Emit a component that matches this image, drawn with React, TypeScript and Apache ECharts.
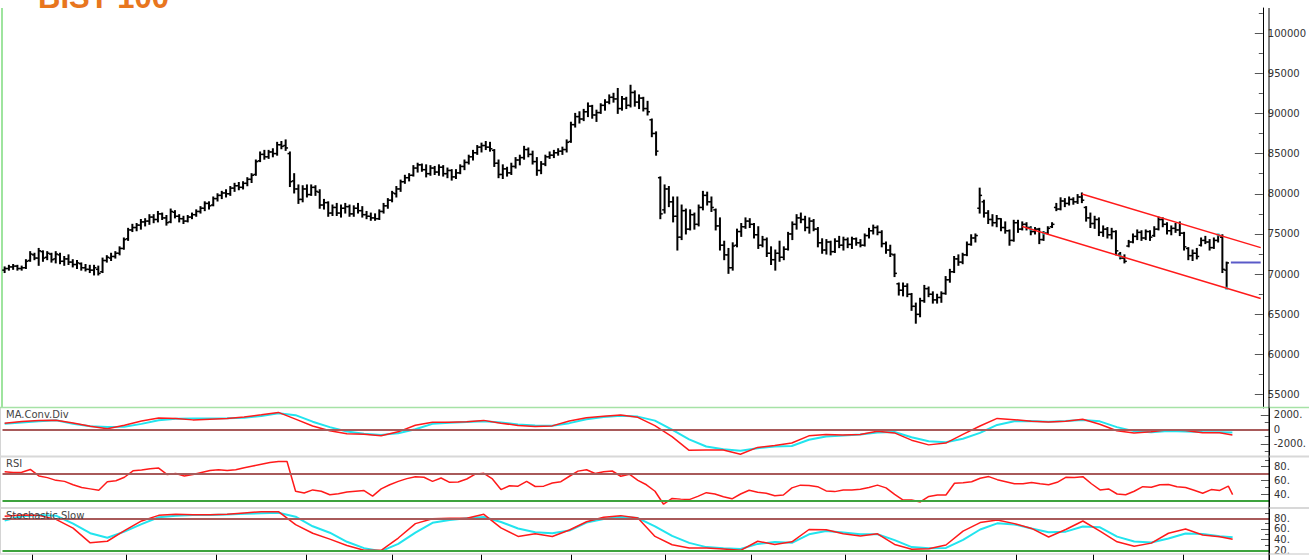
import React, { useEffect, useRef } from 'react';
import * as echarts from 'echarts';

// ---------- DATA ----------
const TITLE = 'BIST 100';
const BAR_COUNT = 288;
const TOTAL_SLOTS = 296; // bars + empty space on the right

// OHLC in thousands of points
const opens = [
  70.5, 70.7, 70.9, 71.0, 70.7, 70.8, 71.7, 72.4, 72.0, 72.8,
  72.1, 72.5, 71.9, 72.4, 71.6, 71.9, 71.5, 71.2, 71.3, 70.8,
  70.6, 70.5, 70.6, 70.3, 71.7, 72.0, 72.2, 72.6, 73.2, 74.4,
  75.5, 75.8, 76.1, 76.5, 76.6, 77.1, 76.8, 77.5, 77.0, 76.5,
  77.7, 77.2, 76.9, 76.6, 77.1, 77.4, 77.8, 78.2, 78.8, 78.6,
  79.4, 79.8, 80.1, 80.0, 80.7, 81.0, 80.8, 81.3, 81.8, 82.4,
  84.1, 84.9, 84.6, 85.2, 85.0, 86.1, 86.0, 85.0, 81.6, 80.6,
  79.3, 80.6, 79.9, 80.8, 80.2, 78.6, 78.9, 77.6, 78.3, 77.6,
  78.2, 78.4, 77.5, 78.2, 77.9, 77.4, 77.2, 77.0, 76.9, 77.8,
  78.5, 79.2, 80.0, 80.6, 81.5, 82.0, 82.3, 83.2, 83.6, 83.0,
  82.5, 83.2, 82.7, 83.3, 82.5, 82.9, 82.1, 82.6, 83.4, 83.9,
  84.6, 85.1, 85.8, 86.0, 85.8, 85.4, 83.8, 82.4, 83.1, 82.6,
  83.4, 84.2, 84.5, 85.5, 84.9, 84.0, 82.9, 83.7, 84.6, 84.8,
  85.1, 85.3, 85.5, 86.5, 88.6, 89.6, 89.3, 90.2, 90.9, 89.8,
  90.1, 91.0, 91.4, 92.0, 91.8, 90.6, 91.8, 91.0, 92.6, 91.4,
  91.9, 90.6, 89.2, 87.5, 82.0, 78.0, 80.6, 79.0, 77.2, 74.6,
  77.9, 75.6, 77.4, 76.2, 78.3, 79.8, 79.0, 78.0, 76.0, 73.6,
  72.4, 70.8, 73.6, 75.3, 75.9, 76.6, 76.2, 74.9, 73.6, 74.3,
  72.6, 71.8, 72.6, 72.1, 73.1, 75.0, 76.2, 77.0, 76.8, 75.8,
  76.6, 75.6, 73.9, 73.0, 74.0, 72.8, 74.1, 73.6, 74.3, 73.7,
  74.4, 73.9, 73.6, 74.8, 75.4, 75.8, 75.2, 73.8, 73.0, 72.4,
  68.8, 68.0, 68.5, 67.5, 66.0, 65.0, 66.7, 68.2, 67.5, 66.8,
  67.1, 67.6, 69.3, 70.3, 71.9, 71.5, 72.4, 73.7, 74.5, 78.2,
  79.0, 77.6, 76.8, 76.4, 76.9, 75.8, 75.4, 74.2, 76.4, 75.6,
  76.2, 75.8, 75.3, 75.6, 74.3, 75.1, 75.9, 78.3, 78.1, 79.1,
  78.8, 79.3, 79.0, 79.6, 78.3, 77.0, 76.3, 76.8, 75.2, 75.6,
  74.9, 75.3, 72.5, 72.0, 73.5, 74.0, 74.7, 75.2, 74.5, 75.3,
  74.8, 75.6, 76.8, 76.2, 75.4, 75.7, 75.5, 75.1, 73.2, 72.3,
  72.6, 73.6, 74.2, 74.0, 73.3, 74.2, 74.6, 70.5,
];
const highs = [
  70.9, 71.1, 71.2, 71.1, 71.0, 71.8, 72.8, 72.6, 73.2, 72.9,
  72.8, 72.6, 72.8, 72.6, 72.2, 72.4, 71.8, 71.7, 71.4, 71.2,
  71.1, 71.1, 71.0, 72.0, 72.3, 72.6, 72.8, 73.4, 74.5, 75.7,
  76.2, 76.3, 76.8, 76.9, 77.4, 77.4, 77.8, 77.6, 77.3, 78.1,
  77.9, 77.4, 77.2, 77.3, 77.6, 78.0, 78.4, 79.0, 79.0, 79.6,
  80.0, 80.3, 80.5, 80.9, 81.3, 81.4, 81.5, 82.0, 82.5, 84.2,
  85.2, 85.4, 85.4, 85.6, 86.4, 86.5, 86.7, 85.2, 82.5, 81.1,
  81.0, 81.1, 81.1, 81.0, 80.5, 79.3, 79.0, 78.6, 78.8, 78.6,
  78.8, 78.6, 78.5, 78.8, 78.4, 77.8, 77.6, 77.5, 78.0, 78.8,
  79.4, 80.3, 80.9, 81.7, 82.3, 82.5, 83.5, 83.8, 83.7, 83.6,
  83.5, 83.4, 83.6, 83.5, 83.2, 83.0, 83.0, 83.6, 84.2, 84.8,
  85.4, 86.0, 86.3, 86.5, 86.4, 85.5, 84.2, 83.6, 83.3, 83.8,
  84.5, 84.8, 85.9, 85.7, 85.3, 84.5, 84.0, 84.8, 85.2, 85.4,
  85.6, 85.8, 86.7, 88.9, 90.0, 90.2, 90.5, 91.3, 91.0, 90.4,
  91.2, 91.7, 92.3, 92.5, 93.1, 92.1, 92.0, 93.5, 92.8, 92.3,
  92.0, 91.5, 89.3, 87.7, 82.1, 81.1, 80.9, 79.6, 79.6, 78.6,
  78.1, 78.0, 77.6, 78.6, 80.3, 80.2, 79.6, 78.1, 77.0, 74.1,
  73.2, 73.9, 75.6, 76.3, 77.0, 76.9, 76.3, 75.9, 74.7, 74.5,
  73.4, 73.0, 74.1, 73.4, 75.2, 76.5, 77.4, 77.6, 77.2, 77.0,
  76.8, 75.8, 74.4, 74.3, 74.1, 74.4, 74.7, 74.6, 74.5, 74.6,
  74.5, 74.3, 75.0, 75.7, 76.1, 76.0, 75.4, 74.0, 73.6, 72.5,
  68.9, 68.9, 68.8, 67.6, 66.4, 67.0, 68.6, 68.4, 67.8, 67.5,
  67.8, 69.7, 70.6, 72.2, 72.4, 72.6, 74.0, 74.9, 75.0, 80.7,
  79.2, 77.9, 77.4, 77.3, 76.9, 76.5, 75.5, 76.7, 76.7, 76.5,
  76.4, 75.9, 75.8, 75.7, 75.3, 75.9, 76.4, 78.8, 79.5, 79.4,
  79.6, 79.5, 79.9, 80.1, 78.4, 77.6, 77.2, 77.0, 76.0, 75.8,
  75.7, 75.4, 72.7, 72.4, 74.2, 75.0, 75.5, 75.4, 75.5, 75.4,
  75.9, 77.1, 77.0, 76.4, 76.0, 76.3, 76.5, 75.2, 73.3, 73.0,
  73.2, 74.5, 74.7, 74.3, 74.5, 74.9, 74.9, 71.5,
];
const lows = [
  70.2, 70.5, 70.6, 70.5, 70.5, 70.7, 71.6, 71.8, 71.1, 71.6,
  71.8, 71.5, 71.4, 71.3, 71.1, 71.2, 70.9, 70.7, 70.5, 70.4,
  70.2, 69.9, 69.9, 70.2, 71.5, 71.7, 72.0, 72.4, 73.1, 74.2,
  75.3, 75.4, 75.6, 76.0, 76.2, 76.4, 76.5, 76.8, 76.1, 76.4,
  77.0, 76.5, 76.3, 76.5, 76.9, 77.2, 77.6, 77.9, 78.1, 78.5,
  79.1, 79.4, 79.6, 79.8, 80.3, 80.5, 80.6, 81.0, 81.4, 82.3,
  84.0, 84.3, 84.4, 84.6, 84.8, 85.6, 85.4, 80.9, 80.1, 78.8,
  79.0, 79.6, 79.8, 79.8, 78.2, 78.1, 77.2, 77.3, 77.3, 77.1,
  77.6, 77.2, 77.2, 77.6, 77.1, 76.9, 76.7, 76.7, 76.8, 77.6,
  78.2, 79.0, 79.6, 80.3, 81.3, 81.6, 82.2, 82.7, 82.8, 82.1,
  82.3, 82.4, 82.3, 82.2, 82.0, 81.7, 81.9, 82.5, 83.0, 83.7,
  84.2, 84.9, 85.2, 85.5, 85.3, 83.4, 82.0, 81.9, 82.2, 82.4,
  83.2, 83.6, 84.3, 84.6, 83.7, 82.3, 82.5, 83.5, 84.4, 84.5,
  84.8, 84.9, 85.2, 86.4, 88.3, 88.8, 89.1, 89.6, 89.4, 89.0,
  90.0, 90.4, 91.2, 91.4, 90.0, 90.4, 90.6, 90.8, 90.9, 90.6,
  90.3, 89.8, 87.1, 84.8, 76.9, 77.6, 78.4, 76.5, 73.0, 74.3,
  75.0, 75.5, 75.6, 76.0, 78.0, 78.6, 77.8, 75.5, 73.0, 71.8,
  70.1, 70.5, 73.4, 74.7, 75.7, 75.8, 74.5, 73.2, 73.4, 72.2,
  71.2, 70.5, 71.6, 71.8, 73.0, 74.3, 75.6, 76.4, 75.4, 75.1,
  75.4, 73.4, 72.6, 72.5, 72.4, 72.7, 73.3, 73.0, 73.3, 73.2,
  73.6, 73.4, 73.5, 74.5, 75.0, 74.9, 73.4, 72.6, 72.2, 69.7,
  67.4, 67.3, 67.2, 65.5, 63.9, 64.7, 66.5, 67.2, 66.4, 66.4,
  66.5, 67.5, 69.0, 70.2, 71.1, 71.3, 72.3, 73.6, 74.0, 77.6,
  77.1, 76.3, 76.0, 75.9, 75.4, 75.1, 73.6, 74.1, 75.2, 75.5,
  75.5, 74.9, 75.0, 73.8, 74.2, 75.0, 75.8, 77.9, 78.0, 78.4,
  78.6, 78.7, 78.8, 78.9, 76.6, 75.8, 75.7, 74.8, 74.7, 74.5,
  74.4, 72.4, 71.9, 71.4, 73.4, 73.9, 74.3, 74.2, 74.3, 74.2,
  74.7, 75.5, 75.9, 75.0, 74.9, 75.2, 74.8, 73.0, 71.8, 71.7,
  71.9, 73.5, 73.8, 73.0, 73.2, 74.0, 70.2, 68.2,
];
const closes = [
  70.7, 70.9, 71.0, 70.7, 70.8, 71.6, 72.5, 72.0, 72.9, 72.0,
  72.6, 71.8, 72.5, 71.6, 71.9, 71.5, 71.2, 71.4, 70.8, 70.6,
  70.5, 70.8, 70.1, 71.7, 72.1, 72.2, 72.6, 73.2, 74.3, 75.5,
  75.8, 76.1, 76.5, 76.6, 77.1, 76.8, 77.5, 77.0, 76.4, 77.8,
  77.2, 76.9, 76.6, 77.1, 77.4, 77.8, 78.2, 78.8, 78.5, 79.4,
  79.8, 80.1, 80.0, 80.7, 81.0, 80.8, 81.3, 81.8, 82.3, 84.0,
  84.9, 84.6, 85.2, 85.0, 86.1, 85.9, 85.7, 81.5, 80.6, 79.3,
  80.6, 79.9, 80.8, 80.3, 78.6, 78.9, 77.6, 78.3, 77.6, 78.2,
  78.4, 77.5, 78.2, 77.9, 77.4, 77.2, 77.0, 76.9, 77.8, 78.5,
  79.2, 80.1, 80.6, 81.5, 82.0, 82.3, 83.2, 83.6, 83.0, 82.5,
  83.2, 82.7, 83.3, 82.5, 82.9, 82.1, 82.6, 83.4, 83.9, 84.6,
  85.1, 85.8, 86.0, 85.8, 85.6, 83.8, 82.4, 83.1, 82.6, 83.4,
  84.2, 84.5, 85.5, 84.9, 84.0, 82.9, 83.7, 84.6, 84.8, 85.1,
  85.3, 85.5, 86.4, 88.6, 89.6, 89.3, 90.2, 90.9, 89.8, 90.1,
  91.0, 91.4, 92.0, 91.8, 90.6, 91.8, 91.0, 92.6, 91.4, 91.9,
  90.6, 90.2, 87.5, 85.3, 77.5, 80.6, 79.0, 77.2, 74.6, 77.9,
  75.6, 77.4, 76.2, 78.3, 79.8, 79.0, 78.3, 76.0, 73.6, 72.4,
  70.8, 73.5, 75.3, 75.9, 76.6, 76.2, 74.9, 73.6, 74.3, 72.6,
  71.8, 72.6, 72.1, 73.1, 75.0, 76.2, 77.0, 76.8, 75.8, 76.6,
  75.6, 73.9, 73.0, 74.0, 72.8, 74.1, 73.6, 74.3, 73.7, 74.4,
  73.9, 73.6, 74.8, 75.4, 75.8, 75.2, 73.8, 73.0, 72.5, 70.1,
  68.0, 68.5, 67.5, 66.0, 65.0, 66.7, 68.2, 67.5, 66.8, 67.1,
  67.6, 69.3, 70.3, 71.9, 71.5, 72.4, 73.7, 74.5, 74.8, 79.8,
  77.6, 76.8, 76.4, 76.9, 75.8, 75.4, 74.2, 76.4, 75.6, 76.2,
  75.8, 75.3, 75.6, 74.3, 75.1, 75.7, 76.2, 78.1, 79.1, 78.8,
  79.3, 79.0, 79.6, 79.2, 77.0, 76.3, 76.8, 75.2, 75.6, 74.9,
  75.3, 72.9, 72.0, 71.6, 74.0, 74.7, 75.2, 74.5, 75.3, 74.6,
  75.6, 76.8, 76.2, 75.4, 75.7, 75.5, 75.1, 73.4, 72.3, 72.6,
  72.2, 74.2, 74.0, 73.3, 74.2, 74.8, 70.6, 71.4,
];

// first trading day of each month (bar index)
const monthStartIdx = [7, 29, 50, 71, 91, 112, 133, 155, 175, 197, 216, 237, 255, 276];

// price axis
const priceLabels = [55000, 60000, 65000, 70000, 75000, 80000, 85000, 90000, 95000, 100000];
const priceMinorTicks = [57500, 62500, 67500, 72500, 77500, 82500, 87500, 92500, 97500, 102500];

// trend channel & level (bar index, price)
const channelUpper = [[253, 79970], [295, 73300]];
const channelLower = [[239, 75920], [295, 66970]];
const levelLine = [[288, 71450], [295, 71450]];
const channelAnchors = [[241, 75600], [244, 75100], [262, 72250], [285, 74900], [287, 68250]];

// MACD, sampled every 4 bars (last value = last bar)
const MACD_STEP = 4;
const macdLine = [
  850, 1060, 1230, 1240, 880, 420, 80, 560, 1150, 1550,
  1500, 1300, 1400, 1500, 1700, 2000, 2330, 1400, 450, -200,
  -620, -690, -900, -350, 550, 960, 960, 1050, 1230, 850,
  530, 400, 470, 1150, 1600, 1800, 1960, 1650, 500, -1000,
  -2900, -2860, -2850, -3450, -2500, -2250, -1900, -900, -720, -780,
  -720, -260, -500, -1500, -2150, -1900, -700, 450, 1500, 1330,
  1100, 1000, 1100, 1375, 700, -200, -520, -350, -50, -150,
  -480, -480, -780,
];
const macdSignal = [
  760, 950, 1120, 1250, 750, 430, 330, 360, 750, 1250,
  1450, 1500, 1500, 1510, 1600, 1850, 2200, 1950, 1050, 300,
  -300, -630, -770, -550, 0, 750, 900, 1000, 1100, 950,
  650, 530, 500, 850, 1400, 1700, 1870, 1750, 1200, -50,
  -1400, -2380, -2750, -2950, -2600, -2380, -2300, -1450, -980, -860,
  -720, -450, -380, -1100, -1650, -1780, -1300, -500, 600, 1100,
  1150, 1050, 1150, 1280, 1100, 300, -250, -400, -250, -300,
  -380, -420, -450,
];
const macdLabels = [2000, 0, -2000];
const macdMinorTicks = [1000, -1000, -3000];
const macdLevels = [0];

// RSI, sampled every 2 bars
const RSI_STEP = 2;
const rsiValues = [
  72.5, 71.5, 71.8, 76.0, 66.5, 64.0, 60.0, 58.5, 53.5, 49.5,
  47.5, 45.5, 58.0, 59.5, 64.5, 74.0, 75.0, 77.0, 78.0, 68.5,
  70.0, 66.5, 68.5, 71.5, 74.5, 75.5, 74.5, 75.5, 78.5, 81.0,
  83.5, 86.0, 87.5, 87.5, 44.0, 41.5, 46.0, 44.0, 39.0, 40.5,
  43.0, 44.0, 45.0, 37.0, 47.5, 53.5, 58.5, 62.5, 65.4, 64.5,
  58.5, 63.5, 57.1, 57.5, 62.0, 69.0, 70.3, 62.0, 46.5, 52.0,
  51.5, 58.5, 51.0, 51.5, 56.0, 58.1, 66.0, 73.5, 75.5, 70.0,
  72.5, 73.7, 66.0, 69.0, 60.0, 53.5, 44.0, 25.0, 33.5, 32.5,
  31.8, 36.5, 42.0, 40.0, 36.0, 33.0, 40.0, 45.5, 42.5, 41.0,
  37.5, 38.5, 49.0, 53.0, 52.5, 50.7, 44.5, 43.5, 45.9, 45.9,
  47.0, 49.5, 53.0, 49.0, 39.5, 31.2, 31.2, 28.3, 36.5, 38.5,
  38.5, 55.8, 56.6, 58.0, 63.0, 65.5, 61.0, 58.0, 55.0, 55.0,
  57.0, 55.0, 53.5, 57.1, 64.5, 64.0, 65.4, 55.0, 46.0, 47.5,
  40.0, 39.0, 44.0, 50.7, 50.0, 53.5, 54.0, 50.7, 49.5, 45.5,
  41.2, 46.5, 45.2, 51.5, 39.0,
];
const rsiLabels = [80, 60, 40];
const rsiMajorTicks = [80, 60, 40, 20];
const rsiMinorTicks = [90, 70, 50, 30];
const rsiLevels = [70, 30];

// Stochastic slow, sampled every 4 bars
const STOCH_STEP = 4;
const stochK = [
  84, 86, 85.5, 78, 61.5, 34, 37, 57, 75, 85.5,
  87.5, 86.5, 86.5, 87.5, 90, 92.4, 92.4, 68, 52, 41,
  29, 20, 20, 43, 70, 79, 80, 80, 87.5, 62,
  46, 51, 46, 58, 73.5, 82, 85, 80.5, 46, 30.5,
  24.5, 24.5, 22.5, 20, 37, 31, 36, 59, 58.5, 51,
  47, 51, 31, 22, 23, 30, 56, 72, 76.8, 70,
  61, 45, 59, 74.9, 56, 36, 27.5, 33.5, 52, 60,
  48.7, 45.3, 40.6,
];
const stochD = [
  76, 84, 86.2, 85, 70, 52, 43.5, 55, 69, 82,
  85, 86.2, 86.2, 87, 88.5, 89.5, 90.5, 83, 65, 53,
  36, 24, 18.5, 32, 53, 71.5, 77, 80, 82.5, 73,
  61, 54, 51.9, 57, 72, 78.5, 83, 80.5, 65, 47,
  34, 26, 23.8, 22.5, 32, 35.5, 34, 50, 56, 53.5,
  50, 50, 39, 26, 23.8, 24.5, 39.5, 59, 70.5, 68.5,
  61, 54, 55, 64.5, 63, 45.6, 36.5, 34.5, 42, 51.5,
  50.5, 46.5, 44.4,
];
const stochLabels = [80, 60, 40, 20];
const stochMinorTicks = [90, 70, 50, 30];
const stochLevels = [80, 20];

const panelTitles = ['MA.Conv.Div', 'RSI', 'Stochastic.Slow'];

// ---------- STYLE / LAYOUT ----------
const W = 1309;
const GRID_LEFT = 2.5;
const GRID_RIGHT = 40;
const AXIS_X = W - GRID_RIGHT;
const PANELS = [
  { top: 8, bottom: 408, min: 53350, max: 103110 },
  { top: 408, bottom: 457, min: -3823, max: 2939 },
  { top: 457, bottom: 508, min: 19.5, max: 94.2 },
  { top: 508, bottom: 554, min: 13.1, max: 99.3 },
];
const RED = '#ff1a1a';
const CYAN = '#22e4ee';
const BROWN = '#a85a5a';
const GREEN = '#3da23d';
const LABEL_FONT = { fontFamily: 'DejaVu Sans', fontSize: 10, color: '#333' };

const categories = Array.from({ length: TOTAL_SLOTS }, (_, i) => String(i));

function sampled(values: number[], step: number) {
  return values.map((v, k) => [Math.min(k * step, BAR_COUNT - 1), v]);
}

function buildOption() {
  const ohlc = opens.map((o, i) => [i, o * 1000, highs[i] * 1000, lows[i] * 1000, closes[i] * 1000]);

  const xAxis = PANELS.map((_, g) => ({
    type: 'category',
    gridIndex: g,
    data: categories,
    boundaryGap: true,
    show: g === 3,
    axisLine: { show: false },
    axisLabel: { show: false },
    splitLine: { show: false },
    axisTick: g === 3
      ? {
          show: true,
          length: 6,
          interval: (index: number) => monthStartIdx.includes(index),
          lineStyle: { color: '#000', width: 1 },
        }
      : { show: false },
  }));

  const fmtDot = (v: number) => (v === 0 ? '0' : `${v}.`);
  const axisDefs = [
    { labels: priceLabels, major: priceLabels, minor: priceMinorTicks, fmt: (v: number) => String(v) },
    { labels: macdLabels, major: macdLabels, minor: macdMinorTicks, fmt: fmtDot },
    { labels: rsiLabels, major: rsiMajorTicks, minor: rsiMinorTicks, fmt: fmtDot },
    { labels: stochLabels, major: stochLabels, minor: stochMinorTicks, fmt: fmtDot },
  ];
  const yAxis: any[] = [];
  PANELS.forEach((p, g) => {
    const d = axisDefs[g];
    yAxis.push({
      type: 'value',
      gridIndex: g,
      position: 'right',
      offset: 0,
      min: p.min,
      max: p.max,
      axisLine: { show: true, lineStyle: { color: '#000', width: 1 } },
      axisTick: { show: true, inside: true, length: 8, customValues: d.major, lineStyle: { color: '#555', width: 1 } },
      axisLabel: { show: true, inside: false, margin: 5, customValues: d.labels, formatter: d.fmt, ...LABEL_FONT },
      splitLine: { show: false },
    });
    yAxis.push({
      type: 'value',
      gridIndex: g,
      position: 'right',
      offset: 0,
      min: p.min,
      max: p.max,
      axisLine: { show: false },
      axisTick: { show: true, inside: true, length: 4, customValues: d.minor, lineStyle: { color: '#555', width: 1 } },
      axisLabel: { show: false },
      splitLine: { show: false },
    });
  });

  const levelMark = (levels: number[], colors: string[]) => ({
    silent: true,
    symbol: ['none', 'none'],
    label: { show: false },
    data: levels.map((v, k) => ({ yAxis: v, lineStyle: { color: colors[k], width: 2, type: 'solid' } })),
  });

  const lineBase = { type: 'line', showSymbol: false, symbol: 'none', smooth: false, silent: true };

  const series: any[] = [
    {
      type: 'custom',
      name: 'price',
      xAxisIndex: 0,
      yAxisIndex: 0,
      data: ohlc,
      encode: { x: 0, y: [1, 2, 3, 4] },
      renderItem: (_params: any, api: any) => {
        const x = api.value(0);
        const o = api.coord([x, api.value(1)]);
        const h = api.coord([x, api.value(2)]);
        const l = api.coord([x, api.value(3)]);
        const c = api.coord([x, api.value(4)]);
        const vStyle = { stroke: '#000', lineWidth: 2 };
        const tStyle = { stroke: '#000', lineWidth: 1.5 };
        return {
          type: 'group',
          children: [
            { type: 'line', shape: { x1: h[0], y1: h[1] - 0.5, x2: l[0], y2: l[1] + 0.5 }, style: vStyle },
            { type: 'line', shape: { x1: o[0] - 2.4, y1: o[1], x2: o[0], y2: o[1] }, style: tStyle },
            { type: 'line', shape: { x1: c[0], y1: c[1], x2: c[0] + 2.4, y2: c[1] }, style: tStyle },
          ],
        };
      },
    },
    { ...lineBase, xAxisIndex: 0, yAxisIndex: 0, data: channelUpper, lineStyle: { color: RED, width: 1.5 } },
    { ...lineBase, xAxisIndex: 0, yAxisIndex: 0, data: channelLower, lineStyle: { color: RED, width: 1.5 } },
    { ...lineBase, xAxisIndex: 0, yAxisIndex: 0, data: levelLine, lineStyle: { color: '#5a5ac8', width: 2 } },
    {
      type: 'scatter', xAxisIndex: 0, yAxisIndex: 0, data: channelAnchors, symbol: 'rect', symbolSize: 3,
      itemStyle: { color: '#1ed6d6' }, silent: true,
    },
    // MACD
    {
      ...lineBase, xAxisIndex: 1, yAxisIndex: 2, data: sampled(macdSignal, MACD_STEP),
      lineStyle: { color: CYAN, width: 2 }, markLine: levelMark(macdLevels, [BROWN]),
    },
    { ...lineBase, xAxisIndex: 1, yAxisIndex: 2, data: sampled(macdLine, MACD_STEP), lineStyle: { color: RED, width: 1.5 } },
    // RSI
    {
      ...lineBase, xAxisIndex: 2, yAxisIndex: 4, data: sampled(rsiValues, RSI_STEP),
      lineStyle: { color: RED, width: 1.5 }, markLine: levelMark(rsiLevels, [BROWN, GREEN]),
    },
    // Stochastic
    {
      ...lineBase, xAxisIndex: 3, yAxisIndex: 6, data: sampled(stochD, STOCH_STEP),
      lineStyle: { color: CYAN, width: 2 }, markLine: levelMark(stochLevels, [BROWN, GREEN]),
    },
    { ...lineBase, xAxisIndex: 3, yAxisIndex: 6, data: sampled(stochK, STOCH_STEP), lineStyle: { color: RED, width: 1.5 } },
  ];

  const hLine = (y: number, color: string, width: number) => ({
    type: 'line', silent: true, z: 50,
    shape: { x1: 0, y1: y, x2: W, y2: y },
    style: { stroke: color, lineWidth: width },
  });
  const titleYs = [414, 463, 515];
  const graphic: any[] = [
    {
      type: 'text', x: 38, y: -2.7, silent: true,
      style: {
        text: TITLE, fontSize: 31, fontWeight: 'bold', fontFamily: 'Liberation Sans',
        fill: '#e8761e', verticalAlign: 'middle', textVerticalAlign: 'middle',
      },
    },
    { type: 'line', silent: true, shape: { x1: 2, y1: 8, x2: 2, y2: 408 }, style: { stroke: '#9ee49e', lineWidth: 2 } },
    { type: 'line', silent: true, shape: { x1: 0.5, y1: 408, x2: 0.5, y2: 554 }, style: { stroke: '#d4d4d4', lineWidth: 1 } },
    hLine(407.5, '#a6e2a6', 1.5),
    hLine(456.5, '#d8d8d8', 2),
    hLine(508, '#d8d8d8', 2),
    hLine(554, '#d8d8d8', 1.5),
    { type: 'line', silent: true, z: 51, shape: { x1: AXIS_X, y1: 8, x2: AXIS_X, y2: 560 }, style: { stroke: '#000', lineWidth: 1 } },
    ...panelTitles.map((t, k) => ({
      type: 'text', x: 6, y: titleYs[k], silent: true, z: 52,
      style: {
        text: t, fontSize: 10, fontFamily: 'DejaVu Sans', fill: '#444',
        verticalAlign: 'middle', textVerticalAlign: 'middle',
      },
    })),
  ];

  return {
    animation: false,
    backgroundColor: '#fff',
    grid: PANELS.map((p) => ({ left: GRID_LEFT, right: GRID_RIGHT, top: p.top, height: p.bottom - p.top })),
    xAxis,
    yAxis,
    series,
    graphic,
  };
}

export default function App() {
  const ref = useRef<HTMLDivElement>(null);
  useEffect(() => {
    if (!ref.current) return;
    const chart = echarts.init(ref.current, null, { renderer: 'svg' });
    chart.setOption(buildOption() as any);
    return () => chart.dispose();
  }, []);
  return (
    <div
      ref={ref}
      style={{ position: 'absolute', left: 0, top: 0, width: W, height: 560, background: '#fff' }}
    />
  );
}
